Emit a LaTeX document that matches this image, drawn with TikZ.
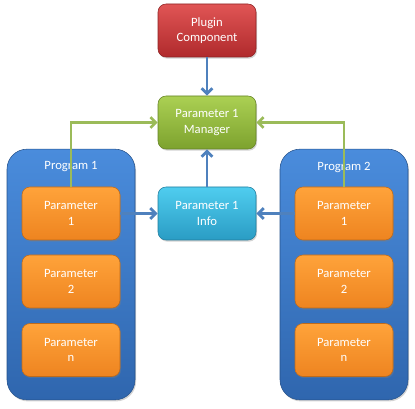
\documentclass[tikz,border=0pt]{standalone}
\usepackage{fontspec}
\setmainfont{Carlito}
\usetikzlibrary{shadows,arrows.meta}
\definecolor{redT}{HTML}{E05555}\definecolor{redB}{HTML}{B02A2C}
\definecolor{grnT}{HTML}{ABD053}\definecolor{grnB}{HTML}{7DA22E}
\definecolor{bluT}{HTML}{4A8CDC}\definecolor{bluB}{HTML}{2F66AE}
\definecolor{orgT}{HTML}{FFA33A}\definecolor{orgB}{HTML}{EE8420}
\definecolor{cyaT}{HTML}{4FCDEF}\definecolor{cyaB}{HTML}{2A9CC4}
\definecolor{arrB}{HTML}{4F81BD}\definecolor{arrG}{HTML}{9BBB59}
\tikzset{
  box/.style={rounded corners=6pt, minimum width=73.5pt, minimum height=39.75pt,
    align=center, text=white, font=\fontsize{9.5}{11.5}\selectfont, inner sep=0pt,
    drop shadow={shadow xshift=0.8pt, shadow yshift=-1.2pt, opacity=0.35}},
  redbox/.style={box, top color=redT, bottom color=redB, draw=redB!80!black},
  grnbox/.style={box, top color=grnT, bottom color=grnB, draw=grnB!80!black},
  orgbox/.style={box, top color=orgT, bottom color=orgB, draw=orgB!80!black},
  cyabox/.style={box, top color=cyaT, bottom color=cyaB, draw=cyaB!80!black},
  container/.style={rounded corners=15pt, top color=bluT, bottom color=bluB, draw=bluB!80!black,
    minimum width=96pt, minimum height=188pt, inner sep=0pt,
    drop shadow={shadow xshift=0.8pt, shadow yshift=-1.2pt, opacity=0.35}},
  ctitle/.style={text=white, font=\fontsize{9.5}{11}\selectfont, inner sep=0pt},
  barrow/.style={draw=arrB, line width=2.2pt, -{Straight Barb[length=4pt,width=8pt]}},
  garrow/.style={draw=arrG, line width=2pt, -{Straight Barb[length=4pt,width=8pt]}},
}
\begin{document}
\begin{tikzpicture}[x=0.75pt,y=-0.75pt]
\useasboundingbox (0,0) rectangle (415,409);
\node[redbox] (plugin) at (207,30.5) {Plugin\\Component};
\node[grnbox] (manager) at (207,122.5) {Parameter 1\\Manager};
\node[cyabox] (info) at (207,213.5) {Parameter 1\\Info};
\node[container] (prog1) at (71,274.5) {};
\node[container] (prog2) at (344,274.5) {};
\node[ctitle] (t1) at (71,167) {Program 1};
\node[ctitle] (t2) at (344,167) {Program 2};
\node[orgbox] (l1) at (71,213.5) {Parameter\\1};
\node[orgbox] (l2) at (71,281.5) {Parameter\\2};
\node[orgbox] (ln) at (71,350) {Parameter\\n};
\node[orgbox] (r1) at (344,213.5) {Parameter\\1};
\node[orgbox] (r2) at (344,281.5) {Parameter\\2};
\node[orgbox] (rn) at (344,350) {Parameter\\n};
\draw[barrow] (plugin.south) -- (manager.north);
\draw[barrow] (info.north) -- (manager.south);
\draw[barrow] (l1.east) -- (info.west);
\draw[barrow] (r1.west) -- (info.east);
\draw[garrow] (l1.north) |- (manager.west);
\draw[garrow] (r1.north) |- (manager.east);
\end{tikzpicture}
\end{document}
